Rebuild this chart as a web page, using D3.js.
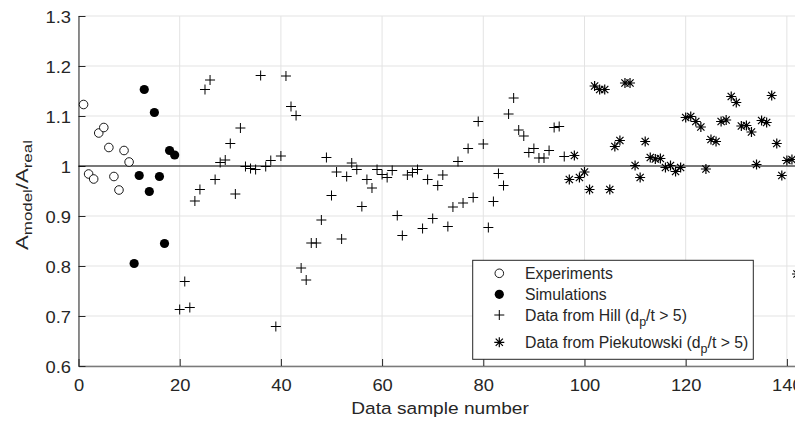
<!DOCTYPE html>
<html>
<head>
<meta charset="utf-8">
<script src="https://cdn.jsdelivr.net/npm/d3@7"></script>
<style>
  body { margin: 0; background: #fff; }
  text { font-family: "Liberation Sans", Arial, Helvetica, sans-serif; fill: #262626; }
</style>
</head>
<body>
<svg id="chart" width="795" height="421"></svg>
<script>
// sample numbers start at these values, one sample per step
const experimentsStart = 1
const experiments = [1.123, 0.984, 0.974, 1.066, 1.077, 1.037, 0.979, 0.952, 1.031, 1.008]

const simulationsStart = 11
const simulations = [0.805, 0.981, 1.153, 0.949, 1.107, 0.979, 0.845, 1.031, 1.022]

const hillStart = 20
const hill = [
  0.713, 0.769, 0.717, 0.930, 0.953, 1.153, 1.172, 0.973, 1.007, 1.012,
  1.045, 0.944, 1.076, 0.999, 0.995, 0.993, 1.181, 0.999, 1.011, 0.679,
  1.020, 1.180, 1.119, 1.101, 0.796, 0.772, 0.846, 0.846, 0.892, 1.017,
  0.941, 0.988, 0.854, 0.979, 1.006, 0.993, 0.919, 0.973, 0.956, 0.993,
  0.983, 0.977, 0.991, 0.901, 0.861, 0.982, 0.987, 0.993, 0.875, 0.973,
  0.895, 0.961, 0.982, 0.879, 0.918, 1.009, 0.926, 1.035, 0.937, 1.089,
  1.044, 0.877, 0.929, 0.985, 0.961, 1.104, 1.136, 1.072, 1.060, 1.027,
  1.035, 1.016, 1.016, 1.031, 1.077, 1.079, 1.019,
]

const piekutowskiStart = 97
const piekutowski = [
  0.973, 1.021, 0.977, 0.988, 0.953, 1.160, 1.153, 1.153, 0.953, 1.039,
  1.051, 1.166, 1.166, 1.001, 0.977, 1.049, 1.017, 1.014, 1.015, 0.997,
  1.001, 0.989, 0.997, 1.097, 1.099, 1.089, 1.078, 0.994, 1.053, 1.049,
  1.089, 1.092, 1.139, 1.127, 1.080, 1.081, 1.068, 1.003, 1.091, 1.087,
  1.141, 1.045, 0.981, 1.011, 1.013, 0.784,
]

const xTicks = [0, 20, 40, 60, 80, 100, 120, 140]
const yTicks = [0.6, 0.7, 0.8, 0.9, 1, 1.1, 1.2, 1.3]
const referenceValue = 1

const toPoints = (start, values) => values.map((v, i) => ({ n: start + i, v }))

const width = 795
const height = 421
const plot = { left: 78.5, top: 16, bottom: 366, right: 797 }

const svg = d3.select('#chart')

const x = d3.scaleLinear().domain([0, 142]).range([plot.left, plot.right])
const y = d3.scaleLinear().domain([0.6, 1.3]).range([plot.bottom, plot.top])

// text in the reference is a bit wider than the font, widen it
function place(sel, px, py, sx, rot) {
  sel.attr('transform', `translate(${px},${py})` + (rot ? ` rotate(${rot})` : '') + ` scale(${sx},1)`)
}

// grid
const grid = svg.append('g').attr('stroke', '#e3e3e3').attr('stroke-width', 1)
grid.selectAll('line.gx')
  .data(xTicks)
  .join('line')
  .attr('class', 'gx')
  .attr('x1', (d) => x(d)).attr('x2', (d) => x(d))
  .attr('y1', plot.top).attr('y2', plot.bottom)
grid.selectAll('line.gy')
  .data(yTicks)
  .join('line')
  .attr('class', 'gy')
  .attr('x1', plot.left).attr('x2', width)
  .attr('y1', (d) => y(d)).attr('y2', (d) => y(d))

// axes
const xAxis = svg.append('g')
  .attr('transform', `translate(0,${plot.bottom})`)
  .call(d3.axisBottom(x).tickValues(xTicks).tickSize(-7).tickSizeOuter(0).tickFormat(d3.format('d')))
xAxis.select('.domain').attr('stroke', '#7a7a7a').attr('stroke-width', 1.6)
xAxis.selectAll('.tick line').attr('stroke', '#262626')
xAxis.selectAll('.tick text').each(function () {
  const t = d3.select(this)
  t.attr('y', null).attr('dy', null).attr('font-size', 17).attr('fill', '#262626')
  place(t, 0, 25, 1.08)
})

const yAxis = svg.append('g')
  .attr('transform', `translate(${plot.left},0)`)
  .call(d3.axisLeft(y).tickValues(yTicks).tickSize(-7).tickSizeOuter(0).tickFormat((d) => d3.format('')(+d.toFixed(1))))
yAxis.select('.domain').attr('stroke', '#262626').attr('stroke-width', 1)
yAxis.selectAll('.tick line').attr('stroke', '#262626')
yAxis.selectAll('.tick text').each(function () {
  const t = d3.select(this)
  t.attr('x', null).attr('dy', null).attr('font-size', 17).attr('fill', '#262626')
    .attr('text-anchor', 'end')
  place(t, -7.5, 6, 1.08)
})
svg.selectAll('g.tick text').attr('font-family', null)
svg.selectAll('g').filter(function () { return this.hasAttribute('font-family') }).attr('font-family', null)

// reference line
svg.append('line')
  .attr('x1', plot.left).attr('x2', width)
  .attr('y1', y(referenceValue)).attr('y2', y(referenceValue))
  .attr('stroke', '#000').attr('stroke-width', 1.2)

// marker shapes
const plusPath = 'M-5,0H5M0,-5V5'
const starPath = 'M-5,0H5M0,-5V5M-3.6,-3.6L3.6,3.6M-3.6,3.6L3.6,-3.6'

const marks = svg.append('g')

marks.selectAll('circle.exp')
  .data(toPoints(experimentsStart, experiments))
  .join('circle')
  .attr('class', 'exp')
  .attr('cx', (d) => x(d.n)).attr('cy', (d) => y(d.v))
  .attr('r', 4.3)
  .attr('fill', '#fff').attr('stroke', '#000').attr('stroke-width', 0.9)

marks.selectAll('circle.sim')
  .data(toPoints(simulationsStart, simulations))
  .join('circle')
  .attr('class', 'sim')
  .attr('cx', (d) => x(d.n)).attr('cy', (d) => y(d.v))
  .attr('r', 4.6)
  .attr('fill', '#000')

marks.selectAll('path.hill')
  .data(toPoints(hillStart, hill))
  .join('path')
  .attr('class', 'hill')
  .attr('transform', (d) => `translate(${x(d.n)},${y(d.v)})`)
  .attr('d', plusPath)
  .attr('stroke', '#000').attr('stroke-width', 1)

marks.selectAll('path.piek')
  .data(toPoints(piekutowskiStart, piekutowski))
  .join('path')
  .attr('class', 'piek')
  .attr('transform', (d) => `translate(${x(d.n)},${y(d.v)})`)
  .attr('d', starPath)
  .attr('stroke', '#000').attr('stroke-width', 1.2)

// axis labels
const xLabel = svg.append('text')
  .attr('text-anchor', 'middle').attr('font-size', 16.5)
  .text('Data sample number')
place(xLabel, 440, 414, 1.16)

const yLabel = svg.append('text')
  .attr('text-anchor', 'middle').attr('font-size', 17)
yLabel.append('tspan').text('A')
yLabel.append('tspan').attr('font-size', 13).attr('dy', 4).text('model')
yLabel.append('tspan').attr('dy', -4).text('/A')
yLabel.append('tspan').attr('font-size', 13).attr('dy', 4).text('real')
place(yLabel, 28, 195, 1.3, -90)

// legend
const legendItems = [
  { label: ['Experiments'], type: 'open' },
  { label: ['Simulations'], type: 'filled' },
  { label: ['Data from Hill (d', 'p', '/t > 5)'], type: 'plus' },
  { label: ['Data from Piekutowski (d', 'p', '/t > 5)'], type: 'star' },
]
const legendRowsY = [273.3, 294.3, 315, 342.3]

const legend = svg.append('g')
legend.append('rect')
  .attr('x', 472.7).attr('y', 260.3)
  .attr('width', 280.6).attr('height', 99)
  .attr('fill', '#fff').attr('stroke', '#262626').attr('stroke-width', 1)

const rows = legend.selectAll('g.row')
  .data(legendItems)
  .join('g')
  .attr('class', 'row')
  .attr('transform', (d, i) => `translate(0,${legendRowsY[i]})`)

rows.each(function (d) {
  const g = d3.select(this)
  if (d.type === 'open') {
    g.append('circle').attr('cx', 499.3).attr('r', 4.3).attr('fill', '#fff').attr('stroke', '#000').attr('stroke-width', 0.9)
  } else if (d.type === 'filled') {
    g.append('circle').attr('cx', 499.3).attr('r', 4.6).attr('fill', '#000')
  } else {
    g.append('path').attr('transform', 'translate(499.3,0)')
      .attr('d', d.type === 'plus' ? plusPath : starPath)
      .attr('stroke', '#000').attr('stroke-width', d.type === 'plus' ? 1 : 1.2)
  }
  const t = g.append('text').attr('x', 525).attr('y', 5.5).attr('font-size', 15.8)
  t.append('tspan').text(d.label[0])
  if (d.label.length > 1) {
    t.append('tspan').attr('font-size', 12.5).attr('dy', 5).text(d.label[1])
    t.append('tspan').attr('dy', -5).text(d.label[2])
  }
})
</script>
</body>
</html>
